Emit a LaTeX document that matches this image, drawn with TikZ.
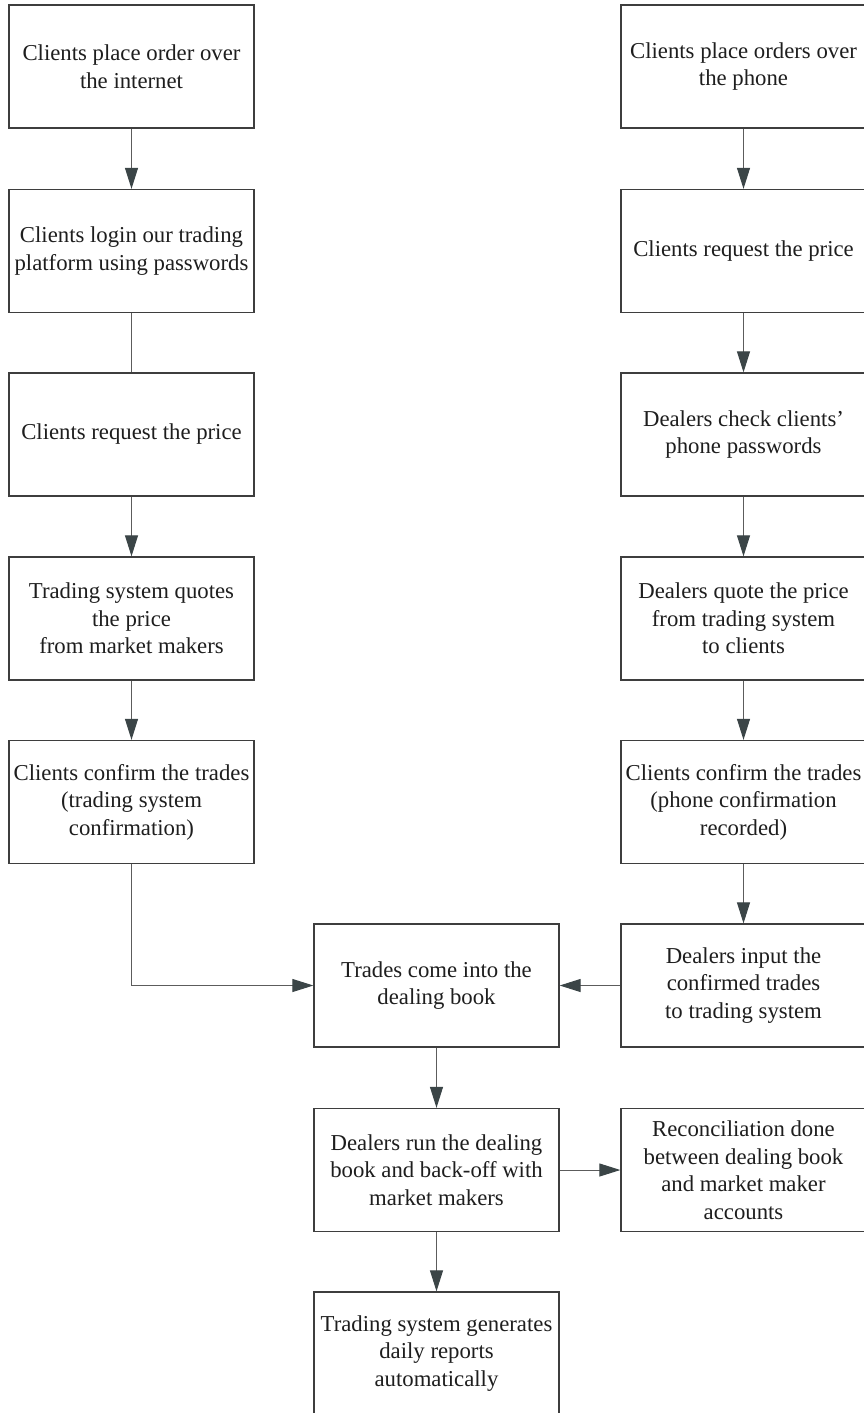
\documentclass[tikz,border=0pt]{standalone}
\usepackage{fontspec}
\setmainfont{Liberation Serif}
\usetikzlibrary{arrows.meta}
\definecolor{boxline}{HTML}{3E3E3E}
\definecolor{linkline}{HTML}{5C5C5C}
\definecolor{tipfill}{HTML}{3B4547}
\definecolor{txt}{HTML}{1E1E1E}
\tikzset{
  stepbox/.style={draw=boxline, line width=1.3pt, rectangle, inner sep=0pt,
    minimum width=245pt, minimum height=123pt, align=center, text=txt,
    font=\fontsize{22.75}{27.5}\selectfont},
  link/.style={draw=linkline, line width=1pt},
  flow/.style={link, -{Triangle[length=21pt, width=13pt, fill=tipfill, color=tipfill]}}
}
\begin{document}
\begin{tikzpicture}[x=1pt, y=-1pt]
\useasboundingbox (0,0) rectangle (864,1413);
\clip (0,0) rectangle (864,1413);
\fill[white] (0,0) rectangle (864,1413);

% internet orders
\node[stepbox] (L1) at (131.5,66.5) {Clients place order over\\the internet};
\node[stepbox] (L2) at (131.5,251) {Clients login our trading\\platform using passwords};
\node[stepbox] (L3) at (131.5,434.5) {Clients request the price};
\node[stepbox] (L4) at (131.5,618.5) {Trading system quotes\\the price\\from market makers};
\node[stepbox] (L5) at (131.5,802) {Clients confirm the trades\\(trading system\\confirmation)};

% phone orders
\node[stepbox] (R1) at (743.5,66.5) {Clients place orders over\\the phone};
\node[stepbox] (R2) at (743.5,251) {Clients request the price};
\node[stepbox] (R3) at (743.5,434.5) {Dealers check clients’\\phone passwords};
\node[stepbox] (R4) at (743.5,618.5) {Dealers quote the price\\from trading system\\to clients};
\node[stepbox] (R5) at (743.5,802) {Clients confirm the trades\\(phone confirmation\\recorded)};
\node[stepbox] (R6) at (743.5,985.5) {Dealers input the\\confirmed trades\\to trading system};

% dealing book
\node[stepbox] (T) at (436.5,985.5) {Trades come into the\\dealing book};
\node[stepbox] (D) at (436.5,1170) {Dealers run the dealing\\book and back-off with\\market makers};
\node[stepbox] (G) at (436.5,1353.5) {Trading system generates\\daily reports\\automatically};
\node[stepbox] (Rec) at (743.5,1170) {Reconciliation done\\between dealing book\\and market maker\\accounts};

% connectors
\draw[flow] (L1) -- (L2);
\draw[link] (L2) -- (L3);
\draw[flow] (L3) -- (L4);
\draw[flow] (L4) -- (L5);
\draw[flow] (L5.south) |- (T.west);

\draw[flow] (R1) -- (R2);
\draw[flow] (R2) -- (R3);
\draw[flow] (R3) -- (R4);
\draw[flow] (R4) -- (R5);
\draw[flow] (R5) -- (R6);
\draw[flow] (R6) -- (T);

\draw[flow] (T) -- (D);
\draw[flow] (D) -- (Rec);
\draw[flow] (D) -- (G);
\end{tikzpicture}
\end{document}
